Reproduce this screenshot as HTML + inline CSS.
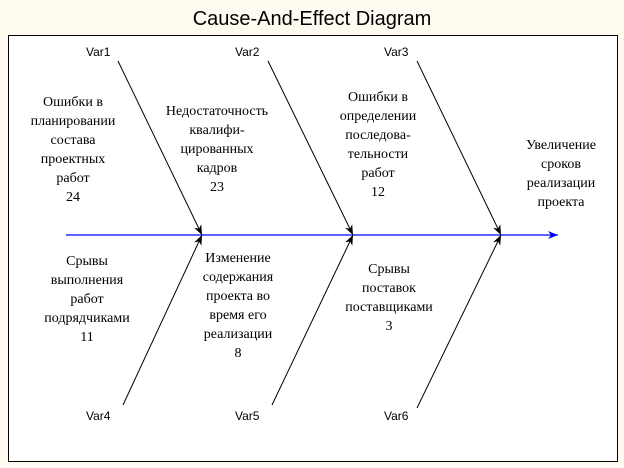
<!DOCTYPE html>
<html><head><meta charset="utf-8"><style>
body{margin:0;width:624px;height:468px;background:#fffbf0;overflow:hidden;position:relative}
#box{position:absolute;left:8px;top:35px;width:608px;height:425px;background:#fff;border:1px solid #000}
.t{position:absolute;font-family:"Liberation Serif",serif;font-size:14px;line-height:19px;text-align:center;color:#000;white-space:nowrap;transform:translateX(-50%)}
.v{position:absolute;font-family:"Liberation Sans",sans-serif;font-size:12px;color:#000}
h1{position:absolute;margin:0;left:0;width:624px;top:8px;text-align:center;font:20px "Liberation Sans",sans-serif}
</style></head><body>
<h1>Cause-And-Effect Diagram</h1>
<div id="box"></div>
<svg width="624" height="468" style="position:absolute;left:0;top:0">
<defs><marker id="a" markerWidth="10" markerHeight="8" refX="10" refY="4" orient="auto" markerUnits="userSpaceOnUse"><path d="M0,0L10,4L0,8L3,4z" fill="#000"/></marker>
<marker id="b" markerWidth="10" markerHeight="8" refX="10" refY="4" orient="auto" markerUnits="userSpaceOnUse"><path d="M0,0L10,4L0,8L3,4z" fill="#00f"/></marker></defs>
<line x1="66" y1="235" x2="558" y2="235" stroke="#00f" stroke-width="1.3" marker-end="url(#b)"/>
<g stroke="#000" stroke-width="1" marker-end="url(#a)">
<line x1="118" y1="61" x2="202" y2="235"/>
<line x1="268" y1="61" x2="353" y2="235"/>
<line x1="417" y1="61" x2="501" y2="235"/>
<line x1="123" y1="405" x2="202" y2="235"/>
<line x1="272" y1="405" x2="353" y2="235"/>
<line x1="417" y1="408" x2="501" y2="235"/>
</g></svg>
<div class="v" style="left:86px;top:45px">Var1</div>
<div class="v" style="left:235px;top:45px">Var2</div>
<div class="v" style="left:384px;top:45px">Var3</div>
<div class="v" style="left:86px;top:409px">Var4</div>
<div class="v" style="left:235px;top:409px">Var5</div>
<div class="v" style="left:384px;top:409px">Var6</div>
<div class="t" style="left:73px;top:93px">Ошибки в<br>планировании<br>состава<br>проектных<br>работ<br>24</div>
<div class="t" style="left:217px;top:102px">Недостаточность<br>квалифи-<br>цированных<br>кадров<br>23</div>
<div class="t" style="left:378px;top:88px">Ошибки в<br>определении<br>последова-<br>тельности<br>работ<br>12</div>
<div class="t" style="left:561px;top:136px">Увеличение<br>сроков<br>реализации<br>проекта</div>
<div class="t" style="left:87px;top:252px">Срывы<br>выполнения<br>работ<br>подрядчиками<br>11</div>
<div class="t" style="left:238px;top:249px">Изменение<br>содержания<br>проекта во<br>время его<br>реализации<br>8</div>
<div class="t" style="left:389px;top:260px">Срывы<br>поставок<br>поставщиками<br>3</div>
</body></html>
